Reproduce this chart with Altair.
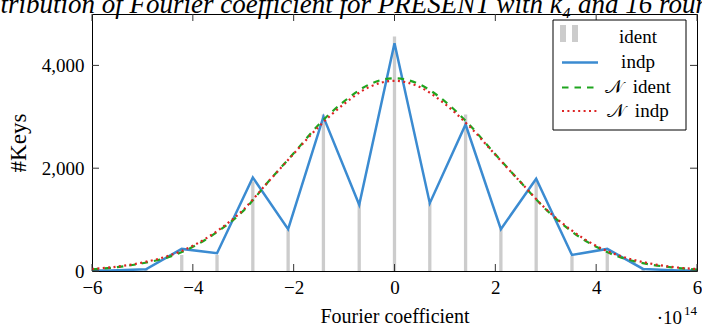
import altair as alt
import pandas as pd

# ---------------- data (x in units of 1e14) ----------------
pos = [-6.33, -5.63, -4.93, -4.22, -3.52, -2.81, -2.11, -1.41, -0.70, 0.0,
       0.70, 1.41, 2.11, 2.81, 3.52, 4.22, 4.93, 5.63, 6.33]
ident = [0, 10, 40, 312, 312, 1743, 800, 3044, 1320, 4560,
         1320, 3044, 813, 1743, 290, 357, 40, 10, 0]
indp = [5, 10, 33, 430, 345, 1820, 813, 2998, 1288, 4430,
        1320, 2850, 813, 1795, 312, 430, 40, 10, 5]

gx = [-6.0, -5.5, -5.0, -4.5, -4.0, -3.5, -3.0, -2.5, -2.0, -1.5, -1.0, -0.5, 0.0,
      0.5, 1.0, 1.5, 2.0, 2.5, 3.0, 3.5, 4.0, 4.5, 5.0, 5.5, 6.0]
n_ident = [30, 75, 150, 265, 470, 770, 1170, 1740, 2290, 2850, 3300, 3630, 3750,
           3630, 3300, 2830, 2270, 1730, 1200, 780, 470, 260, 140, 70, 28]
n_indp = [40, 85, 165, 290, 490, 790, 1190, 1740, 2280, 2810, 3250, 3580, 3700,
          3580, 3250, 2800, 2260, 1730, 1210, 800, 490, 285, 160, 80, 38]

xticks = [-6, -4, -2, 0, 2, 4, 6]
yticks = [0, 2000, 4000]

title_text = "Distribution of Fourier coefficient for PRESENT with k\u2084 and 16 rounds"
legend_labels = ["ident", "indp", "\U0001D4A9\u00a0 ident", "\U0001D4A9\u00a0 indp"]

FONT = "Liberation Serif"
W, H = 605, 257
C_IDENT = "#cccccc"
C_INDP = "#3b8bd1"
C_NID = "#1fa51f"
C_NIN = "#dd2424"

df = pd.DataFrame({"x": pos, "ident": ident, "indp": indp})
gdf = pd.DataFrame({"x": gx, "nident": n_ident, "nindp": n_indp})

xscale = alt.Scale(domain=[-6, 6], nice=False, zero=False)
yscale = alt.Scale(domain=[0, 5000], nice=False)

xaxis = alt.Axis(values=xticks, ticks=False, domain=False, grid=False,
                 labelExpr="format(datum.value, 'd')",
                 labelFontSize=19, labelPadding=7, labelFlush=False,
                 labelOverlap=False, title="Fourier coefficient",
                 titleFontSize=20, titleFontWeight="normal", titlePadding=9,
                 labelColor="black", titleColor="black")
yaxis = alt.Axis(values=yticks, ticks=False, domain=False, grid=False,
                 labelExpr="format(datum.value, ',d')",
                 labelFontSize=19, labelPadding=8, labelFlush=False,
                 labelOverlap=False,
                 title="#Keys", titleFontSize=23, titleFontWeight="normal",
                 titlePadding=11, labelColor="black", titleColor="black")

bars = alt.Chart(df).mark_rule(color=C_IDENT, strokeWidth=3.3, clip=True).encode(
    x=alt.X("x:Q", scale=xscale, axis=xaxis),
    y=alt.Y("ident:Q", scale=yscale, axis=yaxis),
    y2=alt.datum(0),
)

line_indp = alt.Chart(df).mark_line(color=C_INDP, strokeWidth=2.5, clip=True).encode(
    x="x:Q", y="indp:Q")

line_nid = alt.Chart(gdf).mark_line(color=C_NID, strokeWidth=2.2, strokeDash=[6.5, 6],
                                    interpolate="monotone", clip=True).encode(
    x="x:Q", y="nident:Q")
line_nin = alt.Chart(gdf).mark_line(color=C_NIN, strokeWidth=2.2, strokeDash=[2, 3.4],
                                    interpolate="monotone", clip=True).encode(
    x="x:Q", y="nindp:Q")

# inward ticks on all four sides
xt = pd.DataFrame({"x": xticks})
yt = pd.DataFrame({"ident": yticks})
TL = 7
tick_b = alt.Chart(xt).mark_rule(color="#333", strokeWidth=1).encode(
    x="x:Q", y=alt.value(H), y2=alt.value(H - TL))
tick_t = alt.Chart(xt).mark_rule(color="#333", strokeWidth=1).encode(
    x="x:Q", y=alt.value(0), y2=alt.value(TL))
tick_l = alt.Chart(yt).mark_rule(color="#333", strokeWidth=1).encode(
    y="ident:Q", x=alt.value(0), x2=alt.value(TL))
tick_r = alt.Chart(yt).mark_rule(color="#333", strokeWidth=1).encode(
    y="ident:Q", x=alt.value(W), x2=alt.value(W - TL))

one = pd.DataFrame({"a": [0]})

# legend
leg_box = alt.Chart(one).mark_rect(fill="white", stroke="black", strokeWidth=1).encode(
    x=alt.value(461), x2=alt.value(594), y=alt.value(6), y2=alt.value(116))
leg_r1 = alt.Chart(one).mark_rect(fill=C_IDENT).encode(
    x=alt.value(468), x2=alt.value(474), y=alt.value(11), y2=alt.value(28))
leg_r2 = alt.Chart(one).mark_rect(fill=C_IDENT).encode(
    x=alt.value(480), x2=alt.value(486), y=alt.value(11), y2=alt.value(28))
leg_l1 = alt.Chart(one).mark_rule(color=C_INDP, strokeWidth=2.5).encode(
    x=alt.value(470), x2=alt.value(506), y=alt.value(48.5))
leg_l2 = alt.Chart(one).mark_rule(color=C_NID, strokeWidth=2.2, strokeDash=[6.5, 6]).encode(
    x=alt.value(470), x2=alt.value(506), y=alt.value(73.5))
leg_l3 = alt.Chart(one).mark_rule(color=C_NIN, strokeWidth=2.2, strokeDash=[2, 3.4]).encode(
    x=alt.value(470), x2=alt.value(506), y=alt.value(97))

leg_texts = []
for lab, yy in zip(legend_labels, [23, 48, 73, 97]):
    leg_texts.append(
        alt.Chart(pd.DataFrame({"t": [lab]})).mark_text(
            font=FONT, fontSize=19, align="center", baseline="middle", color="black"
        ).encode(text="t:N", x=alt.value(546), y=alt.value(yy))
    )

title_mark = alt.Chart(pd.DataFrame({"t": [title_text]})).mark_text(
    font=FONT, fontSize=27, fontStyle="italic", align="center",
    baseline="alphabetic", color="black"
).encode(text="t:N", x=alt.value(256), y=alt.value(-1))

exp_base = alt.Chart(pd.DataFrame({"t": ["\u00b710"]})).mark_text(
    font=FONT, fontSize=19, align="right", baseline="alphabetic", color="black"
).encode(text="t:N", x=alt.value(590), y=alt.value(310))
exp_sup = alt.Chart(pd.DataFrame({"t": ["14"]})).mark_text(
    font=FONT, fontSize=13, align="right", baseline="alphabetic", color="black"
).encode(text="t:N", x=alt.value(605), y=alt.value(301))

chart = alt.layer(
    bars, line_indp, line_nid, line_nin,
    tick_b, tick_t, tick_l, tick_r,
    leg_box, leg_r1, leg_r2, leg_l1, leg_l2, leg_l3, *leg_texts,
    title_mark, exp_base, exp_sup,
).properties(
    width=W, height=H,
    autosize=alt.AutoSizeParams(type="none"),
    padding={"left": 92, "right": 5, "top": 14, "bottom": 56},
).configure(
    font=FONT,
).configure_view(
    stroke="black", strokeWidth=1,
)

chart.save("out.html", embed_options={"renderer": "svg", "actions": False})
